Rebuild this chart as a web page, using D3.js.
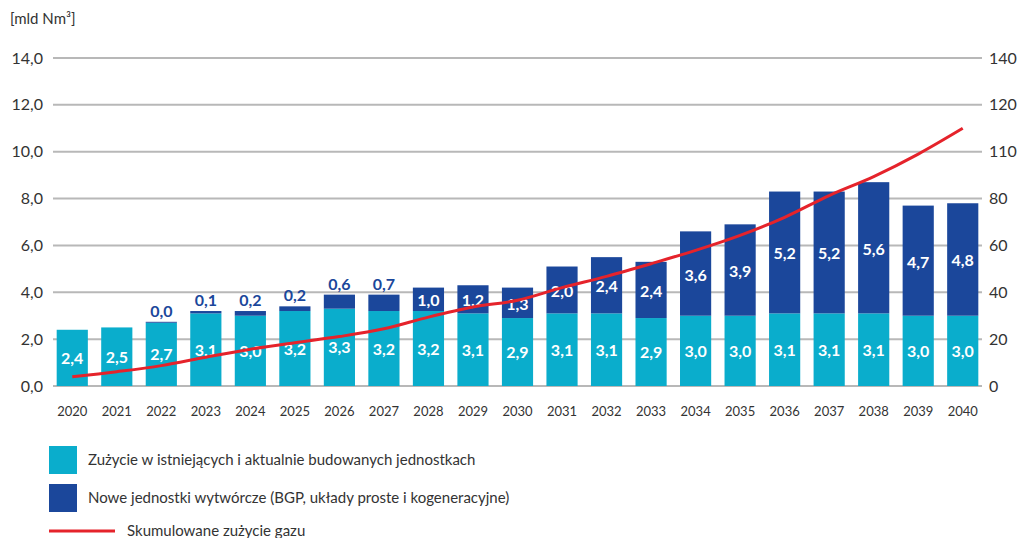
<!DOCTYPE html>
<html>
<head>
<meta charset="utf-8">
<script src="https://cdn.jsdelivr.net/npm/d3@7"></script>
<style>
  body { margin: 0; background: #fff; }
  svg text { font-family: Lato, "Open Sans", sans-serif; }
</style>
</head>
<body>
<svg id="chart" width="1022" height="538"></svg>
<script>
// Data
const years = ['2020', '2021', '2022', '2023', '2024', '2025', '2026', '2027', '2028', '2029', '2030',
    '2031', '2032', '2033', '2034', '2035', '2036', '2037', '2038', '2039', '2040'];
const existing = [2.4, 2.5, 2.7, 3.1, 3.0, 3.2, 3.3, 3.2, 3.2, 3.1, 2.9, 3.1, 3.1, 2.9, 3.0, 3.0, 3.1, 3.1, 3.1, 3.0, 3.0];
const newUnits = [0, 0, 0.04, 0.1, 0.2, 0.2, 0.6, 0.7, 1.0, 1.2, 1.3, 2.0, 2.4, 2.4, 3.6, 3.9, 5.2, 5.2, 5.6, 4.7, 4.8];
const cumulative = [3.9, 6.1, 8.7, 12.3, 15.7, 18.5, 21.1, 24.4, 29.4, 33.7, 36.6, 42, 46.8, 52.2, 57.9, 64.3, 72, 81.3, 89.4, 99, 110];
const leftTicks = [0, 2, 4, 6, 8, 10, 12, 14];
const rightTickLabels = ['0', '20', '40', '60', '80', '110', '120', '140'];
const legendLabels = [
    'Zużycie w istniejących i aktualnie budowanych jednostkach',
    'Nowe jednostki wytwórcze (BGP, układy proste i kogeneracyjne)',
    'Skumulowane zużycie gazu'
];

const colors = { existing: '#0aadcc', newUnits: '#1b479b', line: '#e5232b', grid: '#b8b8b8', text: '#333' };

const svg = d3.select('#chart');

// scales
const x = d3.scaleBand()
    .domain(years)
    .range([50, 985])
    .paddingInner(0.3)
    .paddingOuter(0.15);

const y = d3.scaleLinear()
    .domain([0, 14])
    .range([386, 58]);

const yRight = d3.scaleLinear()
    .domain([0, 140])
    .range([386, 58]);

// gridlines
svg.append('g')
    .selectAll('line')
    .data(leftTicks)
    .enter()
    .append('line')
    .attr('x1', 53)
    .attr('x2', 982)
    .attr('y1', d => y(d))
    .attr('y2', d => y(d))
    .attr('stroke', colors.grid)
    .attr('stroke-width', 2);

// left axis
const leftAxis = svg.append('g')
    .attr('transform', 'translate(53,0)')
    .call(d3.axisLeft(y).tickValues(leftTicks).tickSize(0).tickPadding(10)
        .tickFormat(d => d.toFixed(1).replace('.', ',')));
leftAxis.select('.domain').remove();
leftAxis.selectAll('text').attr('font-size', 16).attr('fill', colors.text).attr('font-family', 'Lato');

// right axis (the original prints 110 where 100 would be)
const rightAxis = svg.append('g')
    .attr('transform', 'translate(982,0)')
    .call(d3.axisRight(yRight).tickValues(d3.range(0, 141, 20)).tickSize(0).tickPadding(7)
        .tickFormat((d, i) => rightTickLabels[i]));
rightAxis.select('.domain').remove();
rightAxis.selectAll('text').attr('font-size', 16).attr('fill', colors.text).attr('font-family', 'Lato');

// bottom axis
const bottomAxis = svg.append('g')
    .attr('transform', 'translate(0,403)')
    .call(d3.axisBottom(x).tickSize(0).tickPadding(4));
bottomAxis.select('.domain').remove();
bottomAxis.selectAll('text').attr('font-size', 13).attr('fill', colors.text).attr('font-family', 'Lato');

// unit label
svg.append('text')
    .attr('x', 10)
    .attr('y', 24)
    .attr('font-size', 15)
    .attr('fill', colors.text)
    .text('[mld Nm³]');

// bars
const bars = svg.append('g');
bars.selectAll('rect.existing')
    .data(years)
    .enter()
    .append('rect')
    .attr('class', 'existing')
    .attr('x', d => x(d))
    .attr('width', x.bandwidth())
    .attr('y', (d, i) => y(existing[i]))
    .attr('height', (d, i) => y(0) - y(existing[i]))
    .attr('fill', colors.existing);

bars.selectAll('rect.new')
    .data(years)
    .enter()
    .append('rect')
    .attr('class', 'new')
    .attr('x', d => x(d))
    .attr('width', x.bandwidth())
    .attr('y', (d, i) => y(existing[i] + newUnits[i]))
    .attr('height', (d, i) => y(existing[i]) - y(existing[i] + newUnits[i]))
    .attr('fill', colors.newUnits);

const fmt = v => v.toFixed(1).replace('.', ',');

// labels inside light segment
svg.append('g')
    .selectAll('text')
    .data(years)
    .enter()
    .append('text')
    .attr('x', d => x(d) + x.bandwidth() / 2)
    .attr('y', (d, i) => (y(0) + y(existing[i])) / 2 + 2)
    .attr('text-anchor', 'middle')
    .attr('dominant-baseline', 'middle')
    .attr('font-size', 16)
    .attr('font-weight', 'bold')
    .attr('fill', '#fff')
    .text((d, i) => fmt(existing[i]));

// labels for new units (above the bar when small)
svg.append('g')
    .selectAll('text')
    .data(years.filter((d, i) => i >= 2))
    .enter()
    .append('text')
    .attr('x', d => x(d) + x.bandwidth() / 2)
    .attr('y', d => {
        const i = years.indexOf(d);
        const top = y(existing[i] + newUnits[i]);
        if (newUnits[i] < 0.8) return top - 5;
        return (top + y(existing[i])) / 2 + 7;
    })
    .attr('text-anchor', 'middle')
    .attr('font-size', 16)
    .attr('font-weight', 'bold')
    .attr('fill', d => newUnits[years.indexOf(d)] < 0.8 ? colors.newUnits : '#fff')
    .text(d => fmt(newUnits[years.indexOf(d)]));

// cumulative line
const line = d3.line()
    .x((d, i) => x(years[i]) + x.bandwidth() / 2)
    .y(d => yRight(d))
    .curve(d3.curveMonotoneX);

svg.append('path')
    .datum(cumulative)
    .attr('d', line)
    .attr('fill', 'none')
    .attr('stroke', colors.line)
    .attr('stroke-width', 3);

// legend
const legend = svg.append('g');
[colors.existing, colors.newUnits].forEach((c, i) => {
    legend.append('rect')
        .attr('x', 49)
        .attr('y', 446 + i * 38)
        .attr('width', 28)
        .attr('height', 28)
        .attr('fill', c);
    legend.append('text')
        .attr('x', 88)
        .attr('y', 461 + i * 38)
        .attr('dominant-baseline', 'middle')
        .attr('font-size', 15)
        .attr('fill', colors.text)
        .text(legendLabels[i]);
});
legend.append('line')
    .attr('x1', 49)
    .attr('x2', 115)
    .attr('y1', 531)
    .attr('y2', 531)
    .attr('stroke', colors.line)
    .attr('stroke-width', 3);
legend.append('text')
    .attr('x', 127)
    .attr('y', 532)
    .attr('dominant-baseline', 'middle')
    .attr('font-size', 15)
    .attr('fill', colors.text)
    .text(legendLabels[2]);
</script>
</body>
</html>
